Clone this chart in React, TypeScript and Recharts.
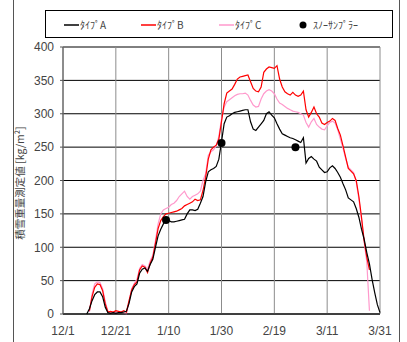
import { ComposedChart, Line, XAxis, YAxis, CartesianGrid } from 'recharts';

// day offsets from 12/1
const DAY_TICKS = [0, 20, 40, 60, 80, 100, 120];
const DAY_LABELS = ['12/1', '12/21', '1/10', '1/30', '2/19', '3/11', '3/31'];
const VALUE_TICKS = [0, 50, 100, 150, 200, 250, 300, 350, 400];

// タイプA, daily from day 9
const A_START = 9;
const typeA = [
  0, 8, 20, 29, 33, 33, 26, 10, 2, 1,
  2, 1, 2, 2, 3, 4, 16, 33, 41, 45,
  61, 67, 69, 64, 74, 82, 100, 117, 127, 135,
  141, 140, 138, 138, 139, 140, 141, 142, 150, 156,
  156, 155, 157, 166, 176, 198, 213, 216, 218, 221,
  232, 258, 285, 295, 297, 300, 302, 303, 304, 305,
  306, 306, 288, 277, 275, 280, 285, 290, 300, 303,
  298, 294, 285, 277, 270, 268, 266, 264, 263, 261,
  259, 257, 264, 226, 233, 236, 232, 229, 220, 216,
  212, 213, 219, 222, 218, 212, 205, 195, 186, 174,
  171, 168, 158, 145, 127, 112, 92, 75, 52, 32,
  14, 2,
];

// タイプB, daily from day 10
const B_START = 10;
const typeB = [
  5, 26, 40, 45, 44, 35, 15, 3, 4, 3,
  5, 4, 3, 5, 3, 20, 36, 44, 48, 66,
  72, 70, 62, 76, 85, 106, 128, 140, 146, 150,
  151, 152, 153, 154, 156, 158, 162, 164, 166, 168,
  172, 170, 171, 185, 205, 232, 246, 250, 253, 262,
  288, 315, 331, 334, 337, 344, 352, 355, 356, 357,
  358, 348, 338, 334, 333, 340, 362, 367, 370, 369,
  368, 372, 352, 340, 333, 330, 328, 332, 328, 326,
  328, 334, 306, 295, 302, 310, 300, 295, 286, 284,
  287, 289, 293, 290, 278, 268, 252, 235, 218, 214,
  210, 200, 176, 145, 110, 85, 66,
];

// タイプC, daily from day 10
const C_START = 10;
const typeC = [
  3, 30, 45, 48, 47, 38, 18, 4, 2, 3,
  2, 3, 4, 2, 0, 18, 38, 46, 52, 68,
  74, 72, 67, 80, 88, 110, 135, 150, 156, 158,
  160, 164, 166, 170, 176, 180, 184, 176, 172, 176,
  178, 180, 184, 200, 210, 238, 243, 246, 252, 266,
  292, 310, 318, 321, 324, 327, 329, 330, 330, 331,
  328, 320, 313, 310, 311, 322, 330, 334, 336, 334,
  330, 322, 316, 314, 311, 308, 306, 304, 303, 302,
  300, 298, 287, 280, 288, 293, 284, 280, 277, 276,
  282, 287, 289, 286, 276, 262, 248, 233, 220, 216,
  212, 198, 172, 142, 108, 78, 5,
];

// スノーサンプラー
const samplerDays = [39, 60, 88];
const samplerValues = [141, 256, 250];

const pick = (arr: number[], start: number, d: number) => {
  const i = d - start;
  return i >= 0 && i < arr.length ? arr[i] : null;
};

const rows = Array.from({ length: 121 }, (_, d) => {
  const si = samplerDays.indexOf(d);
  return {
    day: d,
    a: pick(typeA, A_START, d),
    b: pick(typeB, B_START, d),
    c: pick(typeC, C_START, d),
    s: si >= 0 ? samplerValues[si] : null,
  };
});

const RED = '#ff0000';
const PINK = '#ff99cc';
const tickFont = { fontSize: 12, fill: '#444', fontFamily: 'Liberation Sans, Arial, sans-serif' };
const jpFont = '"Noto Sans CJK JP", sans-serif';

function LegendBox() {
  const items = [
    { x: 18, color: '#000', label: 'ﾀｲﾌﾟA' },
    { x: 95, color: RED, label: 'ﾀｲﾌﾟB' },
    { x: 173, color: PINK, label: 'ﾀｲﾌﾟC' },
  ];
  return (
    <div
      style={{
        position: 'absolute',
        left: 45,
        top: 10,
        width: 346,
        height: 26,
        border: '1px solid #000',
        background: '#fff',
      }}
    >
      <svg width={346} height={26} style={{ display: 'block' }}>
        {items.map((it) => (
          <g key={it.label}>
            <line x1={it.x} x2={it.x + 15} y1={14} y2={14} stroke={it.color} strokeWidth={1.5} />
            <text x={it.x + 16} y={17.5} fontSize={10} fill="#444" fontFamily={jpFont}>
              {it.label}
            </text>
          </g>
        ))}
        <circle cx={257} cy={14} r={3.5} fill="#000" />
        <text x={267} y={17.5} fontSize={10} fill="#444" fontFamily={jpFont}>
          ｽﾉｰｻﾝﾌﾟﾗｰ
        </text>
      </svg>
    </div>
  );
}

export default function App() {
  return (
    <div style={{ position: 'absolute', left: 0, top: 0, width: 407, height: 342, background: '#fff' }}>
      <div style={{ position: 'absolute', left: 13, top: 0, width: 385, height: 342, borderLeft: '1px solid #555', borderRight: '1px solid #555' }} />
      <ComposedChart
        width={407}
        height={342}
        data={rows}
        margin={{ top: 47, right: 27, bottom: 0, left: 0 }}
        style={{ position: 'absolute', left: 0, top: 0 }}
      >
        <CartesianGrid horizontal vertical={false} stroke="#000" strokeWidth={1} />
        <CartesianGrid horizontal={false} vertical stroke="#8c8c8c" strokeWidth={1} />
        <XAxis
          type="number"
          dataKey="day"
          domain={[0, 120]}
          ticks={DAY_TICKS}
          tickFormatter={(v: number) => DAY_LABELS[DAY_TICKS.indexOf(v)]}
          height={28}
          tickSize={0}
          tickMargin={12}
          tick={tickFont}
          axisLine={{ stroke: '#000' }}
          interval={0}
        />
        <YAxis
          type="number"
          domain={[0, 400]}
          ticks={VALUE_TICKS}
          width={63}
          tickSize={3}
          tickMargin={6}
          tick={tickFont}
          axisLine={{ stroke: '#555' }}
          tickLine={{ stroke: '#555' }}
          interval={0}
          label={{
            content: () => (
              <text
                x={24}
                y={183}
                transform="rotate(-90 24 183)"
                textAnchor="middle"
                fontSize={10.5}
                fill="#444"
                fontFamily={jpFont}
              >
                積雪重量測定値 [kg/m²]
              </text>
            ),
          }}
        />
        <Line type="linear" dataKey="c" stroke={PINK} strokeWidth={1.2} dot={false} isAnimationActive={false} />
        <Line type="linear" dataKey="b" stroke={RED} strokeWidth={1.2} dot={false} isAnimationActive={false} />
        <Line type="linear" dataKey="a" stroke="#000" strokeWidth={1.2} dot={false} isAnimationActive={false} />
        <Line
          type="linear"
          dataKey="s"
          stroke="none"
          dot={{ r: 4, fill: '#000', stroke: '#000', strokeWidth: 0 }}
          activeDot={false}
          isAnimationActive={false}
        />
      </ComposedChart>
      <LegendBox />
    </div>
  );
}
